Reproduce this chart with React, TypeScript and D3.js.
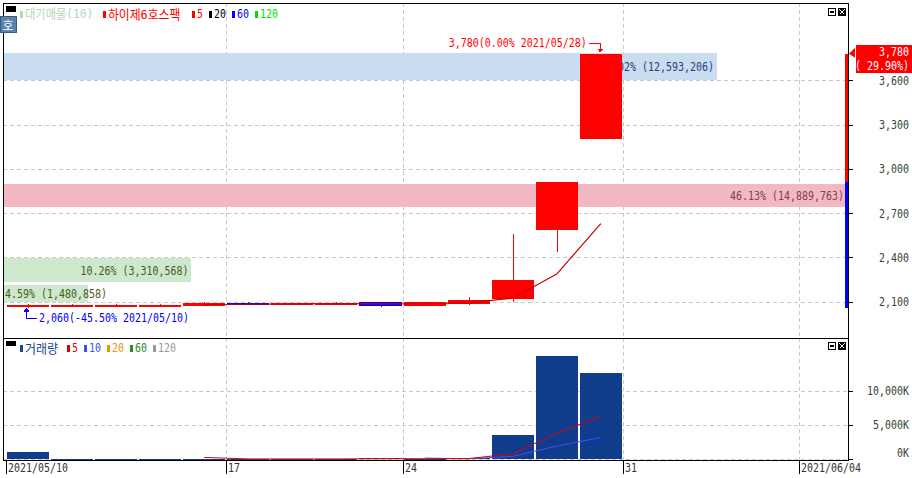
import React from 'react';
import * as d3 from 'd3';

// ---------- data ----------
const dates = ['2021-05-10','2021-05-11','2021-05-12','2021-05-13','2021-05-14','2021-05-17','2021-05-18','2021-05-20','2021-05-21','2021-05-24','2021-05-25','2021-05-26','2021-05-27','2021-05-28'];
const futureDates = ['2021-05-31','2021-06-01','2021-06-02','2021-06-03','2021-06-04'];
const opens  = [2065, 2070, 2075, 2071, 2073, 2089, 2078, 2080, 2100, 2073, 2085, 2120, 2584, 3200];
const highs  = [2085, 2085, 2086, 2086, 2096, 2098, 2092, 2098, 2100, 2098, 2132, 2562, 2910, 3780];
const lows   = [2060, 2065, 2070, 2068, 2070, 2080, 2075, 2078, 2062, 2070, 2080, 2100, 2434, 3200];
const closes = [2075, 2080, 2078, 2080, 2093, 2082, 2090, 2092, 2071, 2096, 2112, 2248, 2910, 3780];
const volumesK = [1100, 60, 50, 55, 70, 45, 60, 40, 220, 60, 150, 3540, 15050, 12593];

const priceTicks = [2100, 2400, 2700, 3000, 3300, 3600];
const volTicks = [0, 5000, 10000];
const volTickLabels = ['0K', '5,000K', '10,000K'];
const xTickDates = ['2021-05-10','2021-05-17','2021-05-24','2021-05-31','2021-06-04'];
const xTickLabels = ['2021/05/10','17','24','31','2021/06/04'];

const profileHigh = [3785, 2897, 2396, 2213];
const profileLow  = [3602, 2742, 2233, 2098];
const profileVol  = [12593206, 14889763, 3310568, 1480858];
const profilePct  = ['39.02%', '46.13%', '10.26%', '4.59%'];
const profileFill = ['#c9dcf0', '#f2b8c4', '#cde8cd', '#cde8cd'];
const profileText = ['#1f3f80', '#8a3a4a', '#4a5a1a', '#4a5a1a'];

const priceLegend = [
  { label: '대기매물(10)', color: '#b8d4b8' },
  { label: '하이제6호스팩', color: '#ff0000' },
  { label: '5', color: '#ff0000' },
  { label: '20', color: '#000000' },
  { label: '60', color: '#0000ff' },
  { label: '120', color: '#00dd00' },
];
const volLegend = [
  { label: '거래량', color: '#1a4a8f' },
  { label: '5', color: '#e00000' },
  { label: '10', color: '#3355ee' },
  { label: '20', color: '#e09a00' },
  { label: '60', color: '#2a8a2a' },
  { label: '120', color: '#999999' },
];

// ---------- layout ----------
const L = 3, R = 848, TOP = 3, MID = 338, BOT = 460;
const FONT = "'DejaVu Sans Mono', 'Noto Sans CJK KR', monospace";

const isWide = (c: string) => c.charCodeAt(0) > 0x1100;
const tw = (s: string) => Array.from(s).reduce((a, c) => a + (isWide(c) ? 12 : 6), 0);

function T({ x, y, s, anchor = 'start', fill = '#333', size = 13 }: any) {
  const nat = Array.from(s as string).reduce((a, c) => a + (isWide(c) ? size : size * 0.602), 0);
  const sx = tw(s) / nat;
  return (
    <text transform={`translate(${x},${y}) scale(${sx.toFixed(4)},1)`} fill={fill} fontSize={size}
      textAnchor={anchor} dominantBaseline="central" fontFamily={FONT}>{s}</text>
  );
}

function ma(arr: number[], n: number) {
  return arr.map((_, i) => (i < n - 1 ? null : (d3.mean(arr.slice(i - n + 1, i + 1)) as number)));
}

export default function App() {
  const allDates = [...dates, ...futureDates];
  const step = 44.06;
  const x = d3.scaleBand<string>().domain(allDates).range([6, 6 + allDates.length * step]).padding(0);
  const bw = x.bandwidth();
  const cx = (d: string) => (x(d) as number) + bw / 2;
  const y = d3.scaleLinear().domain([2100, 3600]).range([301.7, 80.3]);
  const yv = d3.scaleLinear().domain([0, 10000]).range([459.3, 390.7]);
  const maxProfile = d3.max(profileVol) as number;
  const pw = d3.scaleLinear().domain([0, maxProfile]).range([0, R - L - 2]);

  const ma5 = ma(closes, 5);
  const vma5 = ma(volumesK, 5);
  const vma10 = ma(volumesK, 10);
  const line = d3.line<[number, number]>().x(d => d[0]).y(d => d[1]);
  const pts = (vals: (number | null)[], sc: (v: number) => number) =>
    dates.map((d, i) => [cx(d), vals[i]] as [number, number | null])
      .filter(p => p[1] != null)
      .map(p => [p[0], sc(p[1] as number)] as [number, number]);
  const ma5Pts = pts(ma5, y);
  const vma5Pts = pts(vma5, yv);
  const vma10Pts = pts(vma10, yv);

  const last = closes.length - 1;
  const prevClose = closes[last - 1];
  const chg = ((closes[last] - prevClose) / prevClose) * 100;
  const minLow = d3.min(lows) as number;
  const minIdx = lows.indexOf(minLow);
  const maxHigh = d3.max(highs) as number;
  const maxIdx = highs.indexOf(maxHigh);
  const fmt = d3.format(',');
  const lowPct = ((minLow - maxHigh) / maxHigh) * 100;

  const gridV = xTickDates.slice(1).map(d => Math.round(x(d) as number) + 0.5);

  const legendItems = (items: any[], x0: number, yc: number) => {
    let cur = x0;
    return items.map((it, i) => {
      const mx = cur;
      const tx = cur + 5;
      cur = tx + tw(it.label) + 6;
      return (
        <g key={i}>
          <rect x={mx} y={yc - 3.5} width={3} height={7} fill={it.color} />
          <T x={tx} y={yc} s={it.label} fill={it.color} />
        </g>
      );
    });
  };

  const hiX = cx(dates[maxIdx]);
  const loX = cx(dates[minIdx]) - 2;

  return (
    <svg width={912} height={478} style={{ position: 'absolute', left: 0, top: 0, background: '#fff' }}
      shapeRendering="crispEdges">
      <rect x={0} y={0} width={912} height={478} fill="#fff" />
      <defs>
        <clipPath id="cp"><rect x={L} y={TOP} width={R - L} height={MID - TOP} /></clipPath>
        <clipPath id="cv"><rect x={L} y={MID} width={R - L} height={BOT - MID} /></clipPath>
      </defs>

      {/* ---------- price panel ---------- */}
      <g clipPath="url(#cp)">
        {priceTicks.map(t => (
          <line key={t} x1={L} x2={R} y1={Math.round(y(t)) + 0.5} y2={Math.round(y(t)) + 0.5} stroke="#c8c8c8" strokeDasharray="4,3" />
        ))}
        {gridV.map((gx, i) => (
          <line key={i} x1={gx} x2={gx} y1={TOP} y2={MID} stroke="#c8c8c8" strokeDasharray="4,3" />
        ))}
        {profileVol.map((v, i) => {
          const y0 = y(profileHigh[i]);
          const y1 = y(profileLow[i]);
          const w = pw(v);
          const label = `${profilePct[i]} (${fmt(v)})`;
          const fits = tw(label) + 6 < w;
          return (
            <g key={i}>
              <rect x={L + 1} y={y0} width={w} height={y1 - y0} fill={profileFill[i]} />
              {fits
                ? <T x={L + 1 + w - 3} y={(y0 + y1) / 2} s={label} anchor="end" fill={profileText[i]} />
                : <T x={L + 2} y={(y0 + y1) / 2} s={label} fill={profileText[i]} />}
            </g>
          );
        })}
        {dates.map((d, i) => {
          const up = closes[i] >= opens[i];
          const col = up ? '#ff0000' : '#0000ff';
          const top = y(Math.max(opens[i], closes[i]));
          const bot = y(Math.min(opens[i], closes[i]));
          const c = Math.round(cx(d)) + 0.5;
          return (
            <g key={d}>
              <line x1={c} x2={c} y1={y(highs[i])} y2={y(lows[i])} stroke={col} />
              <rect x={(x(d) as number) + 1} y={top} width={bw - 2} height={Math.max(2, bot - top)} fill={col} />
            </g>
          );
        })}
        <path d={line(ma5Pts) as string} fill="none" stroke="#cc0000" strokeWidth={1.2} shapeRendering="auto" />
      </g>

      {/* high annotation */}
      <T x={hiX - 14} y={43} s={`${fmt(maxHigh)}(0.00% ${dates[maxIdx].replace(/-/g, '/')})`} anchor="end" fill="#ff0000" />
      <path d={`M${hiX - 12},43.5 H${hiX - 0.5} V${y(maxHigh) - 4}`} fill="none" stroke="#ff0000" />
      <path d={`M${hiX - 3.5},${y(maxHigh) - 5} L${hiX + 2.5},${y(maxHigh) - 5} L${hiX - 0.5},${y(maxHigh) - 1} Z`} fill="#ff0000" />

      {/* low annotation */}
      <path d={`M${loX + 0.5},${y(minLow) + 3} V318.5 H${loX + 11}`} fill="none" stroke="#0000ff" />
      <path d={`M${loX - 2.5},${y(minLow) + 4} L${loX + 3.5},${y(minLow) + 4} L${loX + 0.5},${y(minLow) + 0.5} Z`} fill="#0000ff" />
      <T x={loX + 13} y={318} s={`${fmt(minLow)}(${lowPct.toFixed(2)}% ${dates[minIdx].replace(/-/g, '/')})`} fill="#0000ff" />

      {/* ---------- volume panel ---------- */}
      <g clipPath="url(#cv)">
        {volTicks.filter(t => t > 0).map(t => (
          <line key={t} x1={L} x2={R} y1={Math.round(yv(t)) + 0.5} y2={Math.round(yv(t)) + 0.5} stroke="#c8c8c8" strokeDasharray="4,3" />
        ))}
        <line x1={L} x2={R} y1={459.5} y2={459.5} stroke="#c8c8c8" strokeDasharray="4,3" />
        {gridV.map((gx, i) => (
          <line key={i} x1={gx} x2={gx} y1={MID} y2={BOT} stroke="#c8c8c8" strokeDasharray="4,3" />
        ))}
        {dates.map((d, i) => (
          <rect key={d} x={(x(d) as number) + 1} y={yv(volumesK[i])} width={bw - 2} height={Math.max(1, yv(0) - yv(volumesK[i]))} fill="#0f3d8c" />
        ))}
        <path d={line(vma10Pts) as string} fill="none" stroke="#4a4aff" strokeWidth={1} shapeRendering="auto" />
        <path d={line(vma5Pts) as string} fill="none" stroke="#e00000" strokeWidth={1} shapeRendering="auto" />
      </g>

      {/* ---------- frames ---------- */}
      <line x1={L + 0.5} x2={L + 0.5} y1={TOP} y2={BOT + 1} stroke="#000" />
      <line x1={L} x2={R} y1={TOP + 0.5} y2={TOP + 0.5} stroke="#000" />
      <line x1={L} x2={R} y1={MID + 0.5} y2={MID + 0.5} stroke="#000" />
      <line x1={L} x2={R + 1} y1={BOT + 0.5} y2={BOT + 0.5} stroke="#000" />
      <line x1={R + 0.5} x2={R + 0.5} y1={TOP} y2={BOT + 1} stroke="#000" />

      {/* right range bar */}
      <rect x={R - 3} y={y(closes[last])} width={3} height={y(prevClose) - y(closes[last])} fill="#ff0000" />
      <rect x={R - 3} y={y(prevClose)} width={3} height={y(minLow) - y(prevClose)} fill="#0000ff" />

      {/* price axis */}
      {priceTicks.map(t => (
        <g key={t}>
          <line x1={R} x2={R + 5} y1={Math.round(y(t)) + 0.5} y2={Math.round(y(t)) + 0.5} stroke="#000" />
          <T x={909} y={y(t)} s={fmt(t)} anchor="end" fill="#334433" />
        </g>
      ))}
      {/* current price tag */}
      <rect x={856} y={45} width={56} height={28} fill="#ff0000" />
      <path d={`M${R + 1},${y(closes[last])} L${855},${y(closes[last]) - 6} L${855},${y(closes[last]) + 4} Z`} fill="#ff0000" shapeRendering="auto" />
      <T x={909} y={52} s={fmt(closes[last])} anchor="end" fill="#fff" />
      <T x={909} y={66} s={`( ${chg.toFixed(2)}%)`} anchor="end" fill="#fff" />

      {/* volume axis */}
      {volTicks.map((t, i) => (
        <g key={t}>
          <line x1={R} x2={R + 5} y1={Math.round(yv(t)) + 0.5} y2={Math.round(yv(t)) + 0.5} stroke="#000" />
          <T x={909} y={t === 0 ? 453 : yv(t)} s={volTickLabels[i]} anchor="end" fill="#334433" />
        </g>
      ))}

      {/* x axis */}
      {xTickDates.map((d, i) => {
        const tx = Math.round(x(d) as number) + 0.5;
        return (
          <g key={d}>
            <line x1={tx} x2={tx} y1={BOT} y2={474} stroke="#000" />
            <T x={tx + 1.5} y={468} s={xTickLabels[i]} fill="#333" />
          </g>
        );
      })}

      {/* legends */}
      <rect x={6} y={6} width={10} height={6} fill="#000" />
      {legendItems(priceLegend, 20, 14)}
      <rect x={6} y={341} width={10} height={5} fill="#000" />
      {legendItems(volLegend, 20, 348)}

      {/* badge */}
      <rect x={0} y={16} width={16} height={16} fill="#5a82aa" stroke="#3a5a80" />
      <text x={8} y={24.5} fill="#fff" fontSize={12} textAnchor="middle" dominantBaseline="central" fontFamily="'Noto Sans CJK KR', sans-serif">호</text>

      {/* panel buttons */}
      {[8, 342].map(by => (
        <g key={by}>
          <rect x={828.5} y={by + 0.5} width={7} height={7} fill="#fff" stroke="#000" />
          <rect x={830} y={by + 3} width={4} height={2} fill="#000" />
          <rect x={838} y={by} width={8} height={8} fill="#000" />
          <path d={`M${839.5},${by + 1.5} L${844.5},${by + 6.5} M${844.5},${by + 1.5} L${839.5},${by + 6.5}`} stroke="#fff" strokeWidth={1} />
        </g>
      ))}
    </svg>
  );
}
